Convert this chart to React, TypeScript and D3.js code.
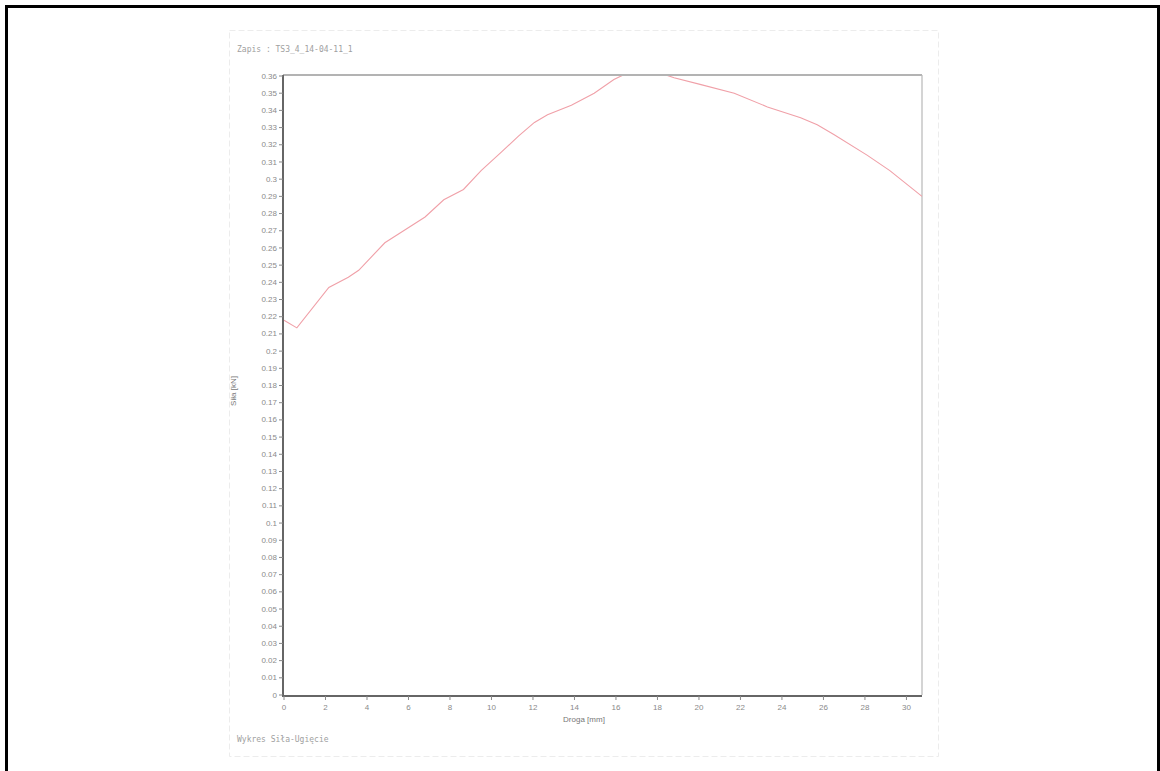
import React from "react";
import * as d3 from "d3";

// force vs. displacement
const drogaMm = [
  0, 0.62, 2.16, 3.1, 3.6, 4.86, 5.5, 6.8, 7.7, 8.65, 9.5, 10.5, 11.3, 12.07,
  12.7, 13.85, 14.95, 15.9, 16.6, 17.4, 18.3, 18.8, 20.1, 21.7, 23.3, 24.9,
  25.7, 26.5, 28.1, 29.2, 30.75,
];
const silaKn = [
  0.218, 0.2135, 0.237, 0.243, 0.247, 0.263, 0.268, 0.278, 0.288, 0.294,
  0.305, 0.316, 0.325, 0.333, 0.3375, 0.343, 0.35, 0.358, 0.362, 0.363,
  0.361, 0.359, 0.355, 0.35, 0.342, 0.3357, 0.3316, 0.326, 0.314, 0.305,
  0.29,
];
const yTicks = d3.range(0, 37).map((i) => i / 100);
const xTicks = d3.range(0, 31, 2);

const title = "Zapis : TS3_4_14-04-11_1";
const footer = "Wykres Siła-Ugięcie";

const W = 1160;
const H = 771;
const plot = { left: 283, top: 75, right: 922, bottom: 695 };

export default function App() {
  const x = d3
    .scaleLinear()
    .domain([0, 30.75])
    .range([plot.left + 1, plot.right]);
  const y = d3.scaleLinear().domain([0, 0.36]).range([plot.bottom, plot.top + 1]);

  const points = drogaMm.map((d, i) => [d, silaKn[i]] as [number, number]);
  const line = d3
    .line<[number, number]>()
    .x((d) => x(d[0]))
    .y((d) => y(d[1]));

  const fmt = (v: number) => String(+v.toFixed(2));
  const textColor = "#8a8a8a";

  return (
    <svg
      width={W}
      height={H}
      style={{ position: "absolute", left: 0, top: 0, background: "#fff" }}
    >
      <defs>
        <clipPath id="plotClip">
          <rect
            x={plot.left}
            y={plot.top + 1}
            width={plot.right - plot.left}
            height={plot.bottom - plot.top}
          />
        </clipPath>
      </defs>

      {/* outer frame, open at the bottom */}
      <path
        d={`M6.5,${H} V6.5 H1158.5 V${H}`}
        fill="none"
        stroke="#000"
        strokeWidth={3}
      />

      {/* faint page border of the printout */}
      <rect
        x={229.5}
        y={30.5}
        width={709}
        height={726}
        fill="none"
        stroke="#ececec"
        strokeDasharray="6 3"
      />

      <text
        x={237}
        y={52}
        fontFamily="'DejaVu Sans Mono', monospace"
        fontSize={8}
        fill="#a0a0a0"
      >
        {title}
      </text>

      {/* plot box */}
      <line x1={plot.left} x2={plot.right} y1={plot.top} y2={plot.top} stroke="#9a9a9a" strokeWidth={1.5} />
      <line x1={plot.right} x2={plot.right} y1={plot.top} y2={plot.bottom} stroke="#b8b8b8" strokeWidth={1.2} />

      {/* curve */}
      <path
        d={line(points) ?? ""}
        fill="none"
        stroke="#f0a0a8"
        strokeWidth={1.1}
        clipPath="url(#plotClip)"
      />

      {/* y axis */}
      <line x1={plot.left} x2={plot.left} y1={plot.top} y2={plot.bottom + 1} stroke="#666" strokeWidth={2} />
      {yTicks.map((t) => (
        <g key={t} transform={`translate(0,${y(t)})`}>
          <line x1={plot.left - 4} x2={plot.left} stroke="#888" />
          <text
            x={plot.left - 6}
            dy="0.32em"
            textAnchor="end"
            fontFamily="Arial, 'Liberation Sans', sans-serif"
            fontSize={8}
            fill={textColor}
          >
            {fmt(t)}
          </text>
        </g>
      ))}
      <text
        transform={`translate(236,${(plot.top + plot.bottom) / 2 + 6}) rotate(-90)`}
        textAnchor="middle"
        fontFamily="Arial, 'Liberation Sans', sans-serif"
        fontSize={8}
        fill="#777"
      >
        Siła [kN]
      </text>

      {/* x axis */}
      <line x1={plot.left - 1} x2={plot.right} y1={plot.bottom + 1} y2={plot.bottom + 1} stroke="#666" strokeWidth={2} />
      {xTicks.map((t) => (
        <g key={t} transform={`translate(${x(t)},0)`}>
          <line y1={plot.bottom + 1} y2={plot.bottom + 5} stroke="#888" />
          <text
            y={plot.bottom + 15}
            textAnchor="middle"
            fontFamily="Arial, 'Liberation Sans', sans-serif"
            fontSize={8}
            fill={textColor}
          >
            {t}
          </text>
        </g>
      ))}
      <text
        x={584}
        y={plot.bottom + 27}
        textAnchor="middle"
        fontFamily="Arial, 'Liberation Sans', sans-serif"
        fontSize={8}
        fill="#777"
      >
        Droga [mm]
      </text>

      <text
        x={237}
        y={742}
        fontFamily="'DejaVu Sans Mono', monospace"
        fontSize={8}
        fill="#a0a0a0"
      >
        {footer}
      </text>
    </svg>
  );
}
